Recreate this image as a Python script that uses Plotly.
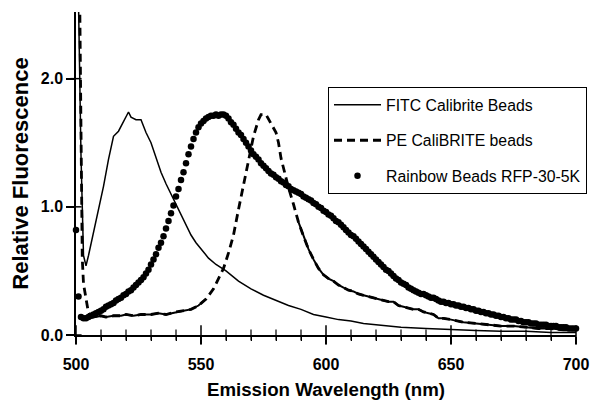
import plotly.graph_objects as go

# ---------------- data ----------------
fitc_nm = [501, 502, 503, 504, 505, 507, 509, 511, 513, 515, 517, 519, 520, 521, 522, 524, 526, 528,
           530, 532, 534, 536, 538, 540, 542, 544, 546, 548, 550, 553, 556, 560, 565, 570, 575, 580,
           585, 590, 595, 600, 605, 610, 615, 620, 625, 630, 640, 650, 660, 670, 680, 690, 700]
fitc_val = [2.60, 1.40, 0.62, 0.54, 0.62, 0.80, 0.98, 1.16, 1.37, 1.55, 1.59, 1.66, 1.70, 1.74, 1.70, 1.68,
            1.68, 1.58, 1.50, 1.39, 1.27, 1.18, 1.10, 1.03, 0.95, 0.86, 0.78, 0.72, 0.67, 0.60, 0.55, 0.50,
            0.42, 0.36, 0.31, 0.27, 0.23, 0.20, 0.16, 0.14, 0.12, 0.11, 0.09, 0.08, 0.07, 0.06, 0.05, 0.04,
            0.035, 0.03, 0.03, 0.02, 0.02]

pe_nm = [501.5, 502, 502.5, 503, 504, 505, 506, 508, 510, 512, 515, 518, 520, 523, 526, 530, 533, 536,
         540, 543, 546, 549, 552, 555, 557, 559, 561, 563, 565, 567, 569, 571, 573, 574, 576, 577, 578,
         580, 581, 582, 583, 585, 587, 589, 591, 593, 595, 597, 599, 601, 603, 605, 607, 609, 611, 613,
         615, 617, 619, 621, 623, 625, 627, 629, 631, 633, 635, 637, 639, 641, 643, 645, 647, 650, 655,
         660, 665, 670, 675, 680, 685, 690, 695, 700]
pe_val = [2.60, 1.50, 0.60, 0.40, 0.28, 0.17, 0.14, 0.14, 0.15, 0.14, 0.15, 0.15, 0.16, 0.15, 0.16, 0.16,
          0.17, 0.16, 0.18, 0.19, 0.20, 0.23, 0.28, 0.36, 0.44, 0.52, 0.64, 0.78, 0.98, 1.18, 1.35, 1.55,
          1.68, 1.72, 1.72, 1.68, 1.65, 1.58, 1.50, 1.38, 1.30, 1.15, 1.02, 0.88, 0.77, 0.67, 0.59, 0.52,
          0.47, 0.44, 0.42, 0.39, 0.37, 0.35, 0.34, 0.32, 0.31, 0.30, 0.29, 0.28, 0.27, 0.26, 0.26, 0.23,
          0.22, 0.21, 0.20, 0.20, 0.18, 0.17, 0.16, 0.13, 0.13, 0.12, 0.10, 0.09, 0.08, 0.07, 0.07, 0.06,
          0.05, 0.05, 0.04, 0.04]

rfp_nm = list(range(500, 701))
rfp_val = [0.82, 0.30, 0.14, 0.13, 0.13, 0.14, 0.15, 0.16, 0.17, 0.18,
           0.19, 0.20, 0.22, 0.23, 0.24, 0.25, 0.27, 0.28, 0.29, 0.31,
           0.32, 0.34, 0.35, 0.37, 0.39, 0.41, 0.43, 0.45, 0.48, 0.51,
           0.55, 0.59, 0.63, 0.68, 0.72, 0.77, 0.83, 0.89, 0.95, 1.01,
           1.08, 1.14, 1.21, 1.27, 1.34, 1.41, 1.47, 1.53, 1.58, 1.62,
           1.65, 1.67, 1.69, 1.70, 1.71, 1.71, 1.72, 1.71, 1.72, 1.72,
           1.71, 1.69, 1.66, 1.64, 1.61, 1.58, 1.56, 1.53, 1.50, 1.47,
           1.44, 1.41, 1.39, 1.37, 1.34, 1.32, 1.30, 1.28, 1.26, 1.25,
           1.23, 1.22, 1.20, 1.19, 1.17, 1.16, 1.14, 1.13, 1.12, 1.11,
           1.10, 1.08, 1.07, 1.06, 1.05, 1.03, 1.02, 1.00, 0.99, 0.97,
           0.96, 0.94, 0.93, 0.91, 0.89, 0.88, 0.86, 0.84, 0.82, 0.80,
           0.78, 0.77, 0.75, 0.73, 0.71, 0.69, 0.67, 0.65, 0.63, 0.61,
           0.59, 0.57, 0.55, 0.53, 0.51, 0.50, 0.48, 0.46, 0.44, 0.43,
           0.41, 0.40, 0.39, 0.37, 0.36, 0.35, 0.34, 0.33, 0.32, 0.32,
           0.31, 0.30, 0.29, 0.29, 0.28, 0.27, 0.26, 0.26, 0.25, 0.25,
           0.24, 0.24, 0.23, 0.23, 0.22, 0.22, 0.21, 0.21, 0.20, 0.20,
           0.19, 0.19, 0.18, 0.18, 0.17, 0.17, 0.16, 0.16, 0.15, 0.15,
           0.14, 0.14, 0.13, 0.13, 0.12, 0.12, 0.12, 0.11, 0.11, 0.10,
           0.10, 0.10, 0.09, 0.09, 0.09, 0.08, 0.08, 0.08, 0.08, 0.07,
           0.07, 0.07, 0.07, 0.06, 0.06, 0.06, 0.06, 0.05, 0.05, 0.05,
           0.05]

x_ticks = [500, 550, 600, 650, 700]
x_minor_ticks = [510, 520, 530, 540, 560, 570, 580, 590, 610, 620, 630, 640, 660, 670, 680, 690]
y_ticks = [0.0, 1.0, 2.0]
y_tick_labels = ["0.0", "1.0", "2.0"]

# solid portions of PE line (flat, noisy regions render solid in the original)
pe_flat_low = [(x, y) for x, y in zip(pe_nm, pe_val) if 505 <= x <= 552]
pe_flat_high = [(x, y) for x, y in zip(pe_nm, pe_val) if x >= 589]

FONT = "Liberation Sans, Arial, sans-serif"

fig = go.Figure()
fig.add_trace(go.Scatter(x=fitc_nm, y=fitc_val, mode="lines", name="FITC Calibrite Beads",
                         line=dict(color="black", width=1.5), legendgroup="a"))
fig.add_trace(go.Scatter(x=pe_nm, y=pe_val, mode="lines", name="PE CaliBRITE beads",
                         line=dict(color="black", width=2.8, dash="8px,5px"), legendgroup="b"))
for seg in (pe_flat_low, pe_flat_high):
    fig.add_trace(go.Scatter(x=[p[0] for p in seg], y=[p[1] for p in seg], mode="lines",
                             line=dict(color="black", width=2), showlegend=False, hoverinfo="skip"))
fig.add_trace(go.Scatter(x=rfp_nm, y=rfp_val, mode="markers", name="Rainbow Beads RFP-30-5K",
                         marker=dict(color="black", size=6.5), cliponaxis=False, legendgroup="c"))

# tick marks crossing the axes (inner halves)
fig.add_trace(go.Scatter(x=x_ticks, y=[0] * len(x_ticks), mode="markers", showlegend=False, hoverinfo="skip",
                         cliponaxis=False,
                         marker=dict(symbol="line-ns-open", size=14, color="black",
                                     line=dict(color="black", width=1.5))))
fig.add_trace(go.Scatter(x=x_minor_ticks, y=[0] * len(x_minor_ticks), mode="markers", showlegend=False,
                         hoverinfo="skip", cliponaxis=False,
                         marker=dict(symbol="line-ns-open", size=8, color="black",
                                     line=dict(color="black", width=1.2))))
fig.add_trace(go.Scatter(x=[500] * len(y_ticks), y=y_ticks, mode="markers", showlegend=False, hoverinfo="skip",
                         cliponaxis=False,
                         marker=dict(symbol="line-ew-open", size=8, color="black",
                                     line=dict(color="black", width=1.5))))

tickfont = dict(family=FONT, size=16, color="black", weight="bold")

fig.update_layout(
    width=592, height=409,
    margin=dict(l=76, r=16, t=12, b=74, autoexpand=False),
    paper_bgcolor="white", plot_bgcolor="white",
    xaxis=dict(range=[500, 700], tickvals=x_ticks, ticktext=[str(v) for v in x_ticks],
               showgrid=False, zeroline=False, showline=True, linecolor="black", linewidth=1.5,
               ticks="outside", ticklen=7, tickwidth=1.5, tickcolor="black", tickfont=tickfont,
               ticklabelstandoff=7, automargin=False,
               minor=dict(dtick=10, ticks="outside", ticklen=4, tickwidth=1.2, tickcolor="black", showgrid=False),
               title=dict(text="Emission Wavelength (nm)", font=dict(family=FONT, size=18.7, color="black", weight="bold"),
                          standoff=11)),
    yaxis=dict(range=[0, 2.52], tickvals=y_ticks, ticktext=y_tick_labels,
               showgrid=False, zeroline=False, showline=True, linecolor="black", linewidth=1.5,
               ticks="outside", ticklen=8, tickwidth=1.5, tickcolor="black", tickfont=tickfont,
               automargin=False,
               title=dict(text="Relative Fluorescence", font=dict(family=FONT, size=22, color="black", weight="bold"),
                          standoff=6)),
    legend=dict(x=0.504, y=0.768, xanchor="left", yanchor="top",
                bordercolor="black", borderwidth=1, bgcolor="white",
                font=dict(family=FONT, size=15.8, color="black"),
                tracegroupgap=12, itemwidth=47),
    showlegend=True,
)

fig.write_html("out.html")
